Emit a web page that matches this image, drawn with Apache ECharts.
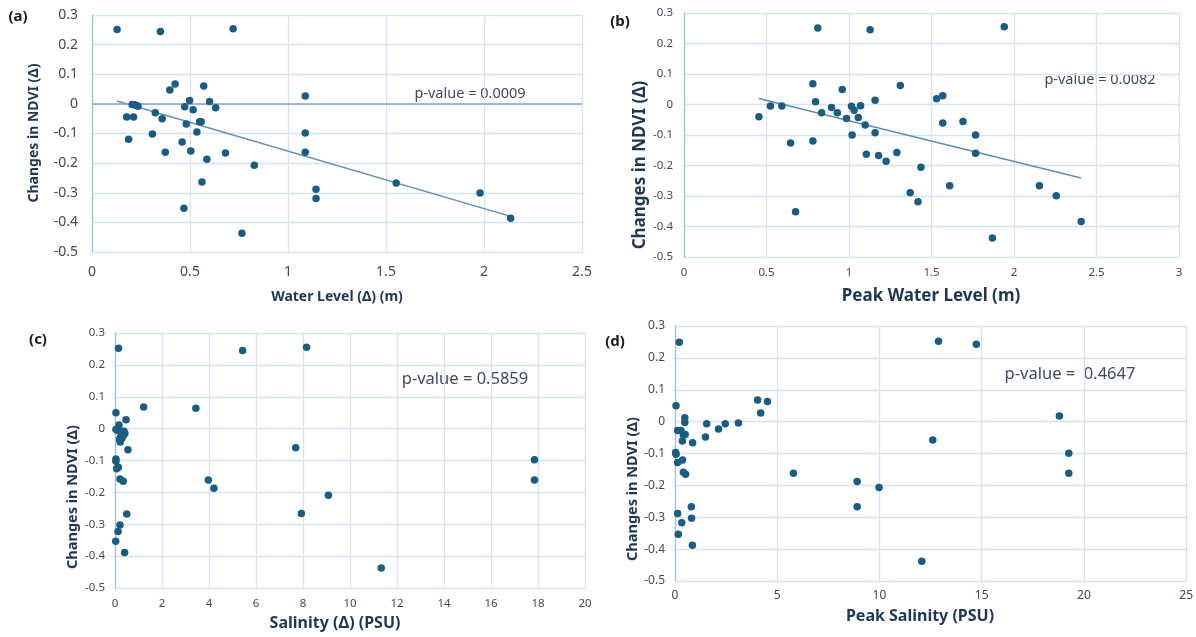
<!DOCTYPE html>
<html>
<head>
<meta charset="utf-8">
<script src="https://cdn.jsdelivr.net/npm/echarts@6/dist/echarts.min.js"></script>
<style>
  html, body { margin: 0; padding: 0; background: #fff; }
  #main { width: 1196px; height: 637px; }
</style>
</head>
<body>
<div id="main"></div>
<script>
// (a) Water Level (delta) vs change in NDVI
var waterLevelDelta = [
    [0.128, 0.251], [0.349, 0.244], [0.720, 0.254], [0.424, 0.067], [0.397, 0.047],
    [0.570, 0.060], [1.088, 0.027], [0.498, 0.011], [0.600, 0.008], [0.473, -0.010],
    [0.516, -0.020], [0.631, -0.013], [0.205, -0.002], [0.215, -0.003], [0.225, -0.005],
    [0.235, -0.008], [0.177, -0.044], [0.212, -0.044], [0.323, -0.030], [0.358, -0.050],
    [0.549, -0.060], [0.557, -0.060], [0.481, -0.068], [0.535, -0.095], [1.088, -0.098],
    [0.308, -0.102], [0.187, -0.119], [0.460, -0.129], [0.374, -0.163], [0.504, -0.159],
    [0.681, -0.166], [1.088, -0.163], [0.586, -0.187], [0.828, -0.207], [0.561, -0.264],
    [1.552, -0.267], [1.143, -0.288], [1.143, -0.319], [1.980, -0.301], [0.469, -0.352],
    [2.136, -0.386], [0.765, -0.437]
];

// (b) Peak water level vs change in NDVI
var peakWaterLevel = [
    [0.811, 0.251], [1.128, 0.245], [1.941, 0.255], [0.781, 0.068], [1.311, 0.062],
    [0.959, 0.049], [1.568, 0.029], [1.531, 0.019], [0.797, 0.009], [1.158, 0.014],
    [0.524, -0.005], [0.593, -0.005], [1.070, -0.004], [1.015, -0.006], [1.031, -0.019],
    [0.894, -0.010], [0.929, -0.027], [0.834, -0.027], [0.454, -0.040], [0.985, -0.046],
    [1.056, -0.043], [1.098, -0.067], [1.568, -0.061], [1.691, -0.056], [1.158, -0.093],
    [1.019, -0.100], [1.767, -0.100], [0.781, -0.120], [0.646, -0.126], [1.105, -0.163],
    [1.179, -0.167], [1.290, -0.157], [1.767, -0.160], [1.225, -0.186], [1.436, -0.206],
    [1.610, -0.266], [2.154, -0.266], [1.371, -0.289], [1.418, -0.319], [2.256, -0.299],
    [0.676, -0.352], [1.869, -0.438], [2.407, -0.384]
];

// (c) Salinity (delta) vs change in NDVI
var salinityDelta = [
    [0.15, 0.252], [5.43, 0.245], [8.15, 0.255], [1.22, 0.068], [3.44, 0.064],
    [0.04, 0.050], [0.47, 0.028], [0.17, 0.011], [0.04, -0.003], [0.10, -0.005],
    [0.25, -0.010], [0.38, -0.008], [0.42, -0.015], [0.35, -0.022], [0.22, -0.028],
    [0.20, -0.035], [0.22, -0.042], [0.30, -0.030], [0.55, -0.066], [7.69, -0.060],
    [0.04, -0.095], [0.04, -0.102], [0.14, -0.121], [0.07, -0.126], [0.21, -0.158],
    [0.35, -0.165], [17.85, -0.098], [17.85, -0.161], [3.97, -0.161], [4.21, -0.187],
    [9.08, -0.209], [7.93, -0.266], [0.50, -0.268], [0.21, -0.302], [0.13, -0.323],
    [0.03, -0.353], [0.41, -0.389], [11.33, -0.437]
];

// (d) Peak salinity vs change in NDVI
var peakSalinity = [
    [0.21, 0.249], [12.89, 0.252], [14.74, 0.243], [0.05, 0.050], [4.04, 0.068],
    [4.52, 0.063], [4.19, 0.027], [18.80, 0.018], [0.48, 0.012], [0.48, -0.003],
    [1.55, -0.007], [2.46, -0.007], [3.10, -0.004], [2.13, -0.023], [1.49, -0.048],
    [0.13, -0.028], [0.29, -0.028], [0.41, -0.042], [0.50, -0.040], [0.36, -0.061],
    [0.86, -0.066], [12.61, -0.058], [0.03, -0.097], [0.05, -0.102], [0.13, -0.128],
    [0.37, -0.120], [0.41, -0.159], [0.52, -0.165], [5.79, -0.162], [19.26, -0.099],
    [19.26, -0.162], [8.91, -0.188], [9.98, -0.207], [8.91, -0.267], [0.80, -0.267],
    [0.13, -0.288], [0.81, -0.303], [0.33, -0.317], [0.16, -0.353], [0.85, -0.388],
    [12.07, -0.438]
];

var pValues = ['p-value = 0.0009', 'p-value = 0.0082', 'p-value = 0.5859', 'p-value =  0.4647'];
var xTitles = ['Water Level (\u0394) (m)', 'Peak Water Level (m)', 'Salinity (\u0394) (PSU)', 'Peak Salinity (PSU)'];
var yTitle = 'Changes in NDVI (\u0394)';
var panelLabels = ['(a)', '(b)', '(c)', '(d)'];

var FONT = 'Noto Sans';
var DOT = '#1b5d82';
var TEXT = '#3d4b5e';
var NAVY = '#1f3654';
var GRIDLINE = '#d5e3f4';
var AXISLINE = '#a3c0e4';

// least squares fit, drawn from min x to max x (like the excel trendline)
function trendline(points) {
    var n = points.length, sx = 0, sy = 0, sxx = 0, sxy = 0;
    var lo = Infinity, hi = -Infinity;
    points.forEach(function (p) {
        sx += p[0]; sy += p[1]; sxx += p[0] * p[0]; sxy += p[0] * p[1];
        lo = Math.min(lo, p[0]); hi = Math.max(hi, p[0]);
    });
    var slope = (n * sxy - sx * sy) / (n * sxx - sx * sx);
    var icpt = (sy - slope * sx) / n;
    return [[lo, icpt + slope * lo], [hi, icpt + slope * hi]];
}

function fmtNum(v) {
    var r = Math.round(v * 10) / 10;
    return r === 0 ? '0' : String(r);
}

function xAxisOf(idx, max, interval, fontSize, margin) {
    return {
        type: 'value', gridIndex: idx, min: 0, max: max, interval: interval,
        axisLine: { show: false, onZero: false },
        axisTick: { show: false },
        splitLine: { show: true, lineStyle: { color: GRIDLINE, width: 1.3 } },
        axisLabel: { color: TEXT, fontFamily: FONT, fontSize: fontSize, margin: margin, formatter: fmtNum }
    };
}

function yAxisOf(idx, fontSize, margin) {
    return {
        type: 'value', gridIndex: idx, min: -0.5, max: 0.3, interval: 0.1,
        axisLine: { show: true, onZero: false, lineStyle: { color: AXISLINE, width: 1.3 } },
        axisTick: { show: false },
        splitLine: { show: true, lineStyle: { color: GRIDLINE, width: 1.3 } },
        axisLabel: { color: TEXT, fontFamily: FONT, fontSize: fontSize, margin: margin, formatter: fmtNum }
    };
}

function dots(idx, data) {
    return {
        type: 'scatter', xAxisIndex: idx, yAxisIndex: idx, data: data,
        symbolSize: 7.5, itemStyle: { color: DOT, opacity: 1 }, z: 5, silent: true
    };
}

function fitLine(idx, data) {
    return {
        type: 'line', xAxisIndex: idx, yAxisIndex: idx, data: trendline(data),
        showSymbol: false, symbol: 'none', silent: true, z: 4,
        lineStyle: { color: '#5f8fb0', width: 1.5 }
    };
}

function text(x, y, str, size, bold, color, rotate, align) {
    return {
        type: 'text', x: x, y: y, rotation: rotate ? Math.PI / 2 : 0,
        style: {
            text: str, fontFamily: FONT, fontSize: size, fontWeight: bold ? 'bold' : 'normal',
            fill: color, align: align || 'center', verticalAlign: 'middle'
        }
    };
}

var chartDom = document.getElementById('main');
var myChart = echarts.init(chartDom);
var option;

var aSeries = dots(0, waterLevelDelta);
// excel horizontal axis crosses at 0 in panel (a)
aSeries.markLine = {
    silent: true, symbol: 'none', label: { show: false },
    lineStyle: { color: '#80a7d6', type: 'solid', width: 1.5 },
    data: [{ yAxis: 0 }]
};

option = {
    animation: false,
    backgroundColor: '#ffffff',
    grid: [
        { left: 92, top: 15, width: 490, height: 237 },
        { left: 684, top: 13, width: 495, height: 244 },
        { left: 115, top: 333, width: 470, height: 255 },
        { left: 675, top: 326, width: 512, height: 255 }
    ],
    xAxis: [
        xAxisOf(0, 2.5, 0.5, 14, 13),
        xAxisOf(1, 3, 0.5, 11.5, 10),
        xAxisOf(2, 20, 2, 11.5, 10),
        xAxisOf(3, 25, 5, 12, 9)
    ],
    yAxis: [
        yAxisOf(0, 14, 14),
        yAxisOf(1, 11.5, 11),
        yAxisOf(2, 11.5, 10),
        yAxisOf(3, 12, 10)
    ],
    series: [
        aSeries,
        fitLine(0, waterLevelDelta),
        dots(1, peakWaterLevel),
        fitLine(1, peakWaterLevel),
        dots(2, salinityDelta),
        dots(3, peakSalinity)
    ],
    graphic: [
        text(18, 17, panelLabels[0], 15, true, '#1a1a1a'),
        text(620, 22, panelLabels[1], 15, true, '#1a1a1a'),
        text(38, 340, panelLabels[2], 15, true, '#1a1a1a'),
        text(615, 342, panelLabels[3], 15, true, '#1a1a1a'),

        text(337, 297, xTitles[0], 14, true, NAVY),
        text(931, 296, xTitles[1], 17, true, NAVY),
        text(335, 623, xTitles[2], 16, true, NAVY),
        text(920, 616, xTitles[3], 16, true, NAVY),

        text(34, 133, yTitle, 14, true, NAVY, true),
        text(640, 165, yTitle, 17, true, NAVY, true),
        text(73, 497, yTitle, 14.5, true, NAVY, true),
        text(633, 489, yTitle, 14.5, true, NAVY, true),

        text(470, 94, pValues[0], 14.5, false, TEXT),
        text(1100, 80, pValues[1], 14.5, false, TEXT),
        text(465, 379, pValues[2], 16.5, false, TEXT),
        text(1070, 374, pValues[3], 16.5, false, TEXT)
    ]
};

option && myChart.setOption(option);
</script>
</body>
</html>
